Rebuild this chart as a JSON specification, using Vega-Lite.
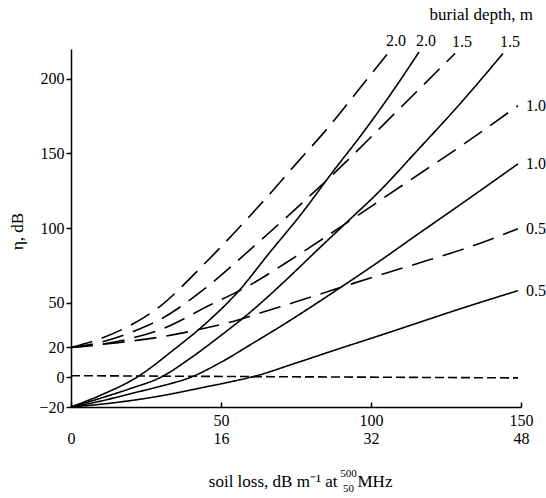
{
  "$schema": "https://vega.github.io/schema/vega-lite/v6.json",
  "width": 450,
  "height": 358,
  "autosize": {"type": "none"},
  "padding": {"left": 71, "top": 49, "right": 25, "bottom": 91},
  "background": "white",
  "title": {"text": "burial depth, m", "anchor": "end", "dx": -13, "offset": 9, "fontSize": 17, "fontWeight": "normal", "font": "Liberation Serif", "color": "black"},
  "config": {
    "font": "Liberation Serif",
    "view": {"stroke": null},
    "axis": {"grid": false, "domainColor": "black", "tickColor": "black", "labelColor": "black", "titleColor": "black", "labelFont": "Liberation Serif", "titleFont": "Liberation Serif", "titleFontWeight": "normal"}
  },
  "datasets": {
    "curves": [
      {"s": "S2.0", "k": "solid", "lab": "2.0", "x": 0, "y": -20},
      {"s": "S2.0", "k": "solid", "lab": "2.0", "x": 10, "y": -12},
      {"s": "S2.0", "k": "solid", "lab": "2.0", "x": 22, "y": 0},
      {"s": "S2.0", "k": "solid", "lab": "2.0", "x": 34, "y": 18},
      {"s": "S2.0", "k": "solid", "lab": "2.0", "x": 46, "y": 38},
      {"s": "S2.0", "k": "solid", "lab": "2.0", "x": 56, "y": 58},
      {"s": "S2.0", "k": "solid", "lab": "2.0", "x": 66, "y": 83},
      {"s": "S2.0", "k": "solid", "lab": "2.0", "x": 77, "y": 110},
      {"s": "S2.0", "k": "solid", "lab": "2.0", "x": 87, "y": 137},
      {"s": "S2.0", "k": "solid", "lab": "2.0", "x": 97, "y": 163},
      {"s": "S2.0", "k": "solid", "lab": "2.0", "x": 107, "y": 191},
      {"s": "S2.0", "k": "solid", "lab": "2.0", "x": 116, "y": 218},
      {"s": "S1.5", "k": "solid", "lab": "1.5", "x": 0, "y": -20},
      {"s": "S1.5", "k": "solid", "lab": "1.5", "x": 10, "y": -14},
      {"s": "S1.5", "k": "solid", "lab": "1.5", "x": 20, "y": -7.5},
      {"s": "S1.5", "k": "solid", "lab": "1.5", "x": 30, "y": 0},
      {"s": "S1.5", "k": "solid", "lab": "1.5", "x": 40, "y": 13},
      {"s": "S1.5", "k": "solid", "lab": "1.5", "x": 50, "y": 28},
      {"s": "S1.5", "k": "solid", "lab": "1.5", "x": 60, "y": 44},
      {"s": "S1.5", "k": "solid", "lab": "1.5", "x": 70, "y": 62},
      {"s": "S1.5", "k": "solid", "lab": "1.5", "x": 82, "y": 85},
      {"s": "S1.5", "k": "solid", "lab": "1.5", "x": 92, "y": 104},
      {"s": "S1.5", "k": "solid", "lab": "1.5", "x": 103, "y": 125},
      {"s": "S1.5", "k": "solid", "lab": "1.5", "x": 115, "y": 151},
      {"s": "S1.5", "k": "solid", "lab": "1.5", "x": 130, "y": 184},
      {"s": "S1.5", "k": "solid", "lab": "1.5", "x": 144, "y": 217},
      {"s": "S1.0", "k": "solid", "lab": "1.0", "x": 0, "y": -20},
      {"s": "S1.0", "k": "solid", "lab": "1.0", "x": 10, "y": -16},
      {"s": "S1.0", "k": "solid", "lab": "1.0", "x": 20, "y": -11},
      {"s": "S1.0", "k": "solid", "lab": "1.0", "x": 30, "y": -6},
      {"s": "S1.0", "k": "solid", "lab": "1.0", "x": 40, "y": 0},
      {"s": "S1.0", "k": "solid", "lab": "1.0", "x": 50, "y": 10},
      {"s": "S1.0", "k": "solid", "lab": "1.0", "x": 60, "y": 22},
      {"s": "S1.0", "k": "solid", "lab": "1.0", "x": 73, "y": 38},
      {"s": "S1.0", "k": "solid", "lab": "1.0", "x": 89, "y": 59},
      {"s": "S1.0", "k": "solid", "lab": "1.0", "x": 103, "y": 78},
      {"s": "S1.0", "k": "solid", "lab": "1.0", "x": 115, "y": 95},
      {"s": "S1.0", "k": "solid", "lab": "1.0", "x": 130, "y": 116},
      {"s": "S1.0", "k": "solid", "lab": "1.0", "x": 149, "y": 143},
      {"s": "S0.5", "k": "solid", "lab": "0.5", "x": 0, "y": -20},
      {"s": "S0.5", "k": "solid", "lab": "0.5", "x": 15, "y": -17},
      {"s": "S0.5", "k": "solid", "lab": "0.5", "x": 30, "y": -12.5},
      {"s": "S0.5", "k": "solid", "lab": "0.5", "x": 45, "y": -6.5},
      {"s": "S0.5", "k": "solid", "lab": "0.5", "x": 53, "y": -3.2},
      {"s": "S0.5", "k": "solid", "lab": "0.5", "x": 61, "y": 0.5},
      {"s": "S0.5", "k": "solid", "lab": "0.5", "x": 75, "y": 9.5},
      {"s": "S0.5", "k": "solid", "lab": "0.5", "x": 90, "y": 19.5},
      {"s": "S0.5", "k": "solid", "lab": "0.5", "x": 100, "y": 26},
      {"s": "S0.5", "k": "solid", "lab": "0.5", "x": 115, "y": 36},
      {"s": "S0.5", "k": "solid", "lab": "0.5", "x": 130, "y": 46},
      {"s": "S0.5", "k": "solid", "lab": "0.5", "x": 149, "y": 58},
      {"s": "D2.0", "k": "dashed", "lab": "2.0", "x": 0, "y": 20},
      {"s": "D2.0", "k": "dashed", "lab": "2.0", "x": 10, "y": 26},
      {"s": "D2.0", "k": "dashed", "lab": "2.0", "x": 20, "y": 35},
      {"s": "D2.0", "k": "dashed", "lab": "2.0", "x": 30, "y": 48},
      {"s": "D2.0", "k": "dashed", "lab": "2.0", "x": 43, "y": 73},
      {"s": "D2.0", "k": "dashed", "lab": "2.0", "x": 55, "y": 98},
      {"s": "D2.0", "k": "dashed", "lab": "2.0", "x": 65, "y": 120},
      {"s": "D2.0", "k": "dashed", "lab": "2.0", "x": 75, "y": 143},
      {"s": "D2.0", "k": "dashed", "lab": "2.0", "x": 86, "y": 168},
      {"s": "D2.0", "k": "dashed", "lab": "2.0", "x": 96, "y": 193},
      {"s": "D2.0", "k": "dashed", "lab": "2.0", "x": 106, "y": 218},
      {"s": "D1.5", "k": "dashed", "lab": "1.5", "x": 0, "y": 20},
      {"s": "D1.5", "k": "dashed", "lab": "1.5", "x": 10, "y": 23.5},
      {"s": "D1.5", "k": "dashed", "lab": "1.5", "x": 20, "y": 30},
      {"s": "D1.5", "k": "dashed", "lab": "1.5", "x": 30, "y": 39},
      {"s": "D1.5", "k": "dashed", "lab": "1.5", "x": 45, "y": 60},
      {"s": "D1.5", "k": "dashed", "lab": "1.5", "x": 60, "y": 86},
      {"s": "D1.5", "k": "dashed", "lab": "1.5", "x": 75, "y": 113},
      {"s": "D1.5", "k": "dashed", "lab": "1.5", "x": 92, "y": 145},
      {"s": "D1.5", "k": "dashed", "lab": "1.5", "x": 103, "y": 167},
      {"s": "D1.5", "k": "dashed", "lab": "1.5", "x": 115, "y": 191},
      {"s": "D1.5", "k": "dashed", "lab": "1.5", "x": 128, "y": 217},
      {"s": "D1.0", "k": "dashed", "lab": "1.0", "x": 0, "y": 20},
      {"s": "D1.0", "k": "dashed", "lab": "1.0", "x": 10, "y": 22},
      {"s": "D1.0", "k": "dashed", "lab": "1.0", "x": 20, "y": 26},
      {"s": "D1.0", "k": "dashed", "lab": "1.0", "x": 30, "y": 32},
      {"s": "D1.0", "k": "dashed", "lab": "1.0", "x": 46, "y": 48},
      {"s": "D1.0", "k": "dashed", "lab": "1.0", "x": 59, "y": 61},
      {"s": "D1.0", "k": "dashed", "lab": "1.0", "x": 75, "y": 81},
      {"s": "D1.0", "k": "dashed", "lab": "1.0", "x": 96, "y": 109},
      {"s": "D1.0", "k": "dashed", "lab": "1.0", "x": 110, "y": 128},
      {"s": "D1.0", "k": "dashed", "lab": "1.0", "x": 130, "y": 155},
      {"s": "D1.0", "k": "dashed", "lab": "1.0", "x": 149, "y": 182},
      {"s": "D0.5", "k": "dashed", "lab": "0.5", "x": 0, "y": 20},
      {"s": "D0.5", "k": "dashed", "lab": "0.5", "x": 15, "y": 23},
      {"s": "D0.5", "k": "dashed", "lab": "0.5", "x": 30, "y": 27},
      {"s": "D0.5", "k": "dashed", "lab": "0.5", "x": 45, "y": 33},
      {"s": "D0.5", "k": "dashed", "lab": "0.5", "x": 56, "y": 38.5},
      {"s": "D0.5", "k": "dashed", "lab": "0.5", "x": 63, "y": 43},
      {"s": "D0.5", "k": "dashed", "lab": "0.5", "x": 75, "y": 50.5},
      {"s": "D0.5", "k": "dashed", "lab": "0.5", "x": 89, "y": 59.6},
      {"s": "D0.5", "k": "dashed", "lab": "0.5", "x": 103, "y": 68.5},
      {"s": "D0.5", "k": "dashed", "lab": "0.5", "x": 120, "y": 79},
      {"s": "D0.5", "k": "dashed", "lab": "0.5", "x": 131, "y": 86},
      {"s": "D0.5", "k": "dashed", "lab": "0.5", "x": 149, "y": 99.5},
      {"s": "Z", "k": "zero", "lab": "", "x": 0, "y": 1},
      {"s": "Z", "k": "zero", "lab": "", "x": 149, "y": -0.5}
    ]
  },
  "data": {"name": "curves"},
  "resolve": {"axis": {"x": "independent", "y": "independent"}},
  "layer": [
    {
      "mark": {"type": "line", "color": "black", "strokeWidth": 1.6, "interpolate": "monotone"},
      "encoding": {
        "x": {
          "field": "x", "type": "quantitative",
          "scale": {"domain": [0, 150], "nice": false, "zero": false},
          "axis": {
            "orient": "bottom",
            "values": [0, 50, 100, 150],
            "labelExpr": "datum.value == 0 ? ['', '0'] : [datum.label, datum.value == 50 ? '16' : datum.value == 100 ? '32' : '48']",
            "labelFontSize": 16, "labelLineHeight": 18, "labelPadding": 10, "labelFlush": false, "labelOverlap": false,
            "tickSize": -5, "tickWidth": 1.5, "domainWidth": 1.5,
            "title": "soil loss, dB m⁻¹ at", "titleFontSize": 17, "titleX": 266, "titleY": 74, "titleAlign": "right", "titleBaseline": "middle"
          }
        },
        "y": {
          "field": "y", "type": "quantitative",
          "scale": {"domain": [-20, 220], "nice": false, "zero": false},
          "axis": {
            "orient": "left",
            "values": [-20, 0, 20, 50, 100, 150, 200],
            "labelFontSize": 16, "labelPadding": 2, "labelOverlap": false,
            "tickSize": 5, "tickWidth": 1.5, "domainWidth": 1.5,
            "title": "η, dB", "titleFontSize": 17, "titleAngle": -90, "titleX": -54, "titleY": 182, "titleAlign": "center", "titleBaseline": "middle"
          }
        },
        "detail": {"field": "s"},
        "strokeDash": {
          "field": "k", "type": "nominal",
          "scale": {"domain": ["solid", "dashed", "zero"], "range": [[1, 0], [22, 10], [9, 4]]},
          "legend": null
        }
      }
    },
    {
      "transform": [
        {"joinaggregate": [{"op": "max", "field": "x", "as": "mx"}], "groupby": ["s"]},
        {"filter": "datum.x == datum.mx && datum.lab != '' && datum.y < 200"}
      ],
      "mark": {"type": "text", "align": "left", "baseline": "middle", "dx": 8, "fontSize": 16, "font": "Liberation Serif", "color": "black"},
      "encoding": {
        "x": {
          "field": "x", "type": "quantitative",
          "scale": {"domain": [0, 150], "nice": false, "zero": false},
          "axis": {"orient": "bottom", "title": "500", "labels": false, "ticks": false, "domain": false, "titleFontSize": 11, "titleX": 277, "titleY": 66, "titleAlign": "center", "titleBaseline": "middle"}
        },
        "y": {"field": "y", "type": "quantitative", "scale": {"domain": [-20, 220], "nice": false, "zero": false}, "axis": null},
        "text": {"field": "lab"}
      }
    },
    {
      "transform": [
        {"joinaggregate": [{"op": "max", "field": "x", "as": "mx"}], "groupby": ["s"]},
        {"filter": "datum.x == datum.mx && datum.lab != '' && datum.y >= 200"}
      ],
      "mark": {"type": "text", "align": "center", "baseline": "middle", "dx": 7, "dy": -11, "fontSize": 16, "font": "Liberation Serif", "color": "black"},
      "encoding": {
        "x": {
          "field": "x", "type": "quantitative",
          "scale": {"domain": [0, 150], "nice": false, "zero": false},
          "axis": {"orient": "bottom", "title": "50", "labels": false, "ticks": false, "domain": false, "titleFontSize": 11, "titleX": 277, "titleY": 81, "titleAlign": "center", "titleBaseline": "middle"}
        },
        "y": {"field": "y", "type": "quantitative", "scale": {"domain": [-20, 220], "nice": false, "zero": false}, "axis": null},
        "text": {"field": "lab"}
      }
    },
    {
      "transform": [{"filter": "false"}],
      "mark": {"type": "text", "fontSize": 16, "font": "Liberation Serif", "color": "black"},
      "encoding": {
        "x": {
          "field": "x", "type": "quantitative",
          "scale": {"domain": [0, 150], "nice": false, "zero": false},
          "axis": {"orient": "bottom", "title": "MHz", "labels": false, "ticks": false, "domain": false, "titleFontSize": 17, "titleX": 286, "titleY": 74, "titleAlign": "left", "titleBaseline": "middle"}
        },
        "y": {"field": "y", "type": "quantitative", "scale": {"domain": [-20, 220], "nice": false, "zero": false}, "axis": null},
        "text": {"field": "lab"}
      }
    }
  ]
}
